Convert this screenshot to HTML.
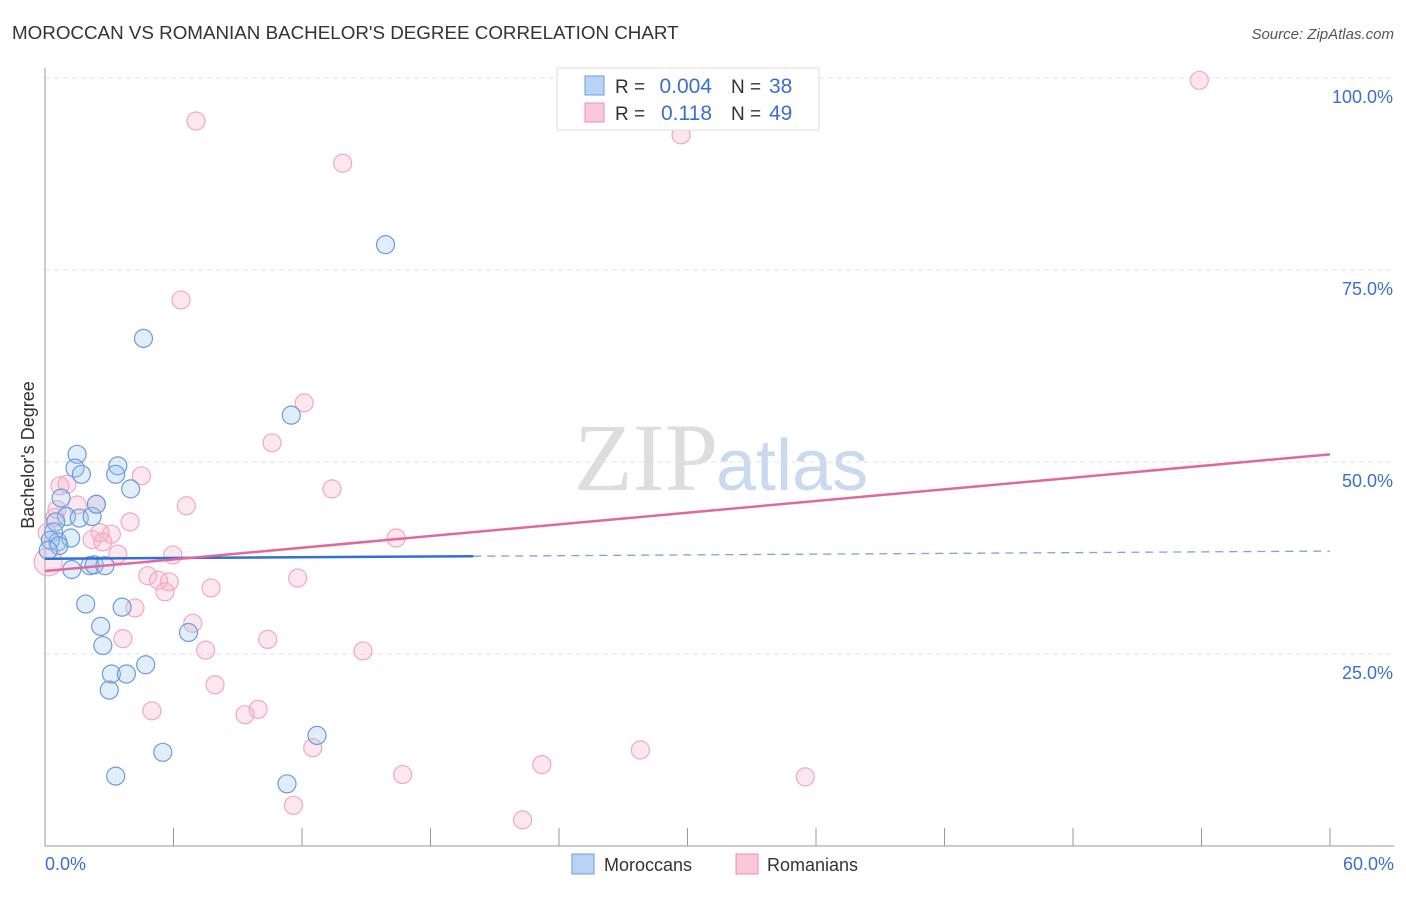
<!DOCTYPE html>
<html><head><meta charset="utf-8"><style>
body{margin:0;background:#fff;font-family:"Liberation Sans",sans-serif;}
</style></head><body>
<svg id="c" width="1406" height="892" xmlns="http://www.w3.org/2000/svg">
<text x="12" y="39" font-size="18.8" fill="#333">MOROCCAN VS ROMANIAN BACHELOR'S DEGREE CORRELATION CHART</text>
<text x="1394" y="39" font-size="15" fill="#555" font-style="italic" text-anchor="end">Source: ZipAtlas.com</text>
<text x="718" y="490" font-size="96" fill="#ddd" font-family="Liberation Serif,serif" text-anchor="end">ZIP</text>
<text x="716" y="490" font-size="72" fill="#c9daf0">atlas</text>
<g id="grid"></g>
<g id="axes"></g>
<g id="pts"></g>
<g id="lines"></g>
<text transform="translate(34,455) rotate(-90)" font-size="18" fill="#333" text-anchor="middle">Bachelor's Degree</text>
<g>
<rect x="557" y="68" width="262" height="62" fill="#fff" stroke="#ddd"/>
<rect x="585" y="76" width="19" height="19" fill="#b8d3f5" stroke="#6c9fe0"/>
<rect x="585" y="103" width="19" height="19" fill="#fbc8d8" stroke="#ec8fb0"/>
<text x="615" y="93" font-size="19" fill="#333">R =</text>
<text x="712" y="93" font-size="21" fill="#3a6fd0" text-anchor="end">0.004</text>
<text x="731" y="93" font-size="19" fill="#333">N =</text>
<text x="769" y="93" font-size="21" fill="#3a6fd0">38</text>
<text x="615" y="120" font-size="19" fill="#333">R =</text>
<text x="712" y="120" font-size="21" fill="#3a6fd0" text-anchor="end">0.118</text>
<text x="731" y="120" font-size="19" fill="#333">N =</text>
<text x="769" y="120" font-size="21" fill="#3a6fd0">49</text>
</g>
<g>
<rect x="572" y="854" width="22" height="20" fill="#b8d3f5" stroke="#6c9fe0"/>
<text x="604" y="871" font-size="18" fill="#333">Moroccans</text>
<rect x="736" y="854" width="22" height="20" fill="#fbc8d8" stroke="#ec8fb0"/>
<text x="767" y="871" font-size="18" fill="#333">Romanians</text>
</g>
</svg>
<script>
const xTicks=[0,6,12,18,24,30,36,42,48,54,60];
const yTicks=[25,50,75,100];
const yTickLabels=["25.0%","50.0%","75.0%","100.0%"];
const moroccanX=[1.5,1.4,1.7,3.4,3.3,4.0,0.75,1.0,1.6,2.2,2.4,0.5,0.4,0.6,0.25,1.2,0.65,1.25,2.1,2.3,2.8,1.9,3.6,2.6,2.7,6.7,3.1,3.8,3.0,4.7,5.5,3.3,4.6,15.9,11.5,12.7,11.3,0.15];
const moroccanY=[51.0,49.2,48.4,49.5,48.4,46.5,45.3,42.9,42.7,42.9,44.5,42.2,40.9,39.6,39.8,40.1,39.1,36.0,36.5,36.6,36.5,31.5,31.1,28.6,26.1,27.8,22.4,22.4,20.3,23.6,12.2,9.1,66.1,78.3,56.1,14.4,8.1,38.5];
const romanianX=[53.9,7.05,13.9,29.7,6.35,12.1,10.6,4.5,13.4,6.6,3.97,16.4,0.7,1.03,1.5,2.4,0.56,2.2,2.7,3.1,3.4,5.97,4.8,5.3,5.8,5.6,7.75,11.8,4.2,6.9,3.64,7.5,10.4,14.85,7.94,4.99,9.34,9.95,12.5,16.7,23.2,27.8,35.5,11.6,22.3,0.15,0.1,2.57,0.47];
const romanianY=[99.7,94.4,88.9,92.6,71.1,57.7,52.5,48.2,46.5,44.3,42.2,40.1,46.9,47.1,44.4,44.5,43.8,39.9,39.6,40.6,38.0,37.9,35.2,34.6,34.4,33.1,33.6,34.9,31.0,29.0,27.0,25.5,26.9,25.4,21.0,17.6,17.1,17.8,12.8,9.3,10.6,12.5,9.0,5.3,3.4,37.0,40.8,40.8,42.8];
const moroccanTrend=[37.4,38.4];
const romanianTrend=[35.8,51.0];
const NS="http://www.w3.org/2000/svg";
const X=v=>45+v/60*1285, Y=v=>846-v/100*768;
function mk(t,a,p){const e=document.createElementNS(NS,t);for(const k in a)e.setAttribute(k,a[k]);p.appendChild(e);return e;}
const grid=document.getElementById('grid'),axes=document.getElementById('axes'),pts=document.getElementById('pts'),lines=document.getElementById('lines');
yTicks.forEach((t,i)=>{
 const g=mk('line',{x1:45,x2:1394,y1:Y(t),y2:Y(t),stroke:'#e2e2e2','stroke-dasharray':'5,4'},grid);
 
 
 const l=mk('text',{x:1393,y:Y(t)+25,'font-size':18,fill:'#3a6fd0','text-anchor':'end'},axes);
 l.textContent=yTickLabels[i];
 
 
});
const ax=mk('line',{x1:45,x2:45,y1:68,y2:846,stroke:'#999'},axes);


const bx=mk('line',{x1:45,x2:1394,y1:846,y2:846,stroke:'#999'},axes);


xTicks.forEach(t=>{const e=mk('line',{x1:X(t),x2:X(t),y1:828,y2:846,stroke:'#999'},axes);
 
 });
[[0,"0.0%",'start',45],[60,"60.0%",'end',1394]].forEach(a=>{const e=mk('text',{x:a[3],y:870,'font-size':18,fill:'#3a6fd0','text-anchor':a[2]},axes);e.textContent=a[1];
 
 });
romanianX.forEach((v,i)=>{const c=mk('circle',{cx:X(v),cy:Y(romanianY[i]),r:i==45?14:9,fill:'rgba(248,175,198,0.3)',stroke:'#f2a8c0','stroke-width':1.2},pts);
 
 });
moroccanX.forEach((v,i)=>{const c=mk('circle',{cx:X(v),cy:Y(moroccanY[i]),r:9,fill:'rgba(160,196,240,0.3)',stroke:'#6a9cdf','stroke-width':1.2},pts);
 
 });
const bs=moroccanTrend[0],be=moroccanTrend[1],bm=v=>bs+(be-bs)*v/60;
const l1=mk('line',{x1:X(0),y1:Y(bs),x2:X(20),y2:Y(bm(20)),stroke:'#2f6fd6','stroke-width':2.5},lines);


const l2=mk('line',{x1:X(20),y1:Y(bm(20)),x2:X(60),y2:Y(be),stroke:'#7aa3e0','stroke-width':1.3,'stroke-dasharray':'8,6'},lines);


const l3=mk('line',{x1:X(0),y1:Y(romanianTrend[0]),x2:X(60),y2:Y(romanianTrend[1]),stroke:'#e2689a','stroke-width':2.5},lines);


</script>
</body></html>
